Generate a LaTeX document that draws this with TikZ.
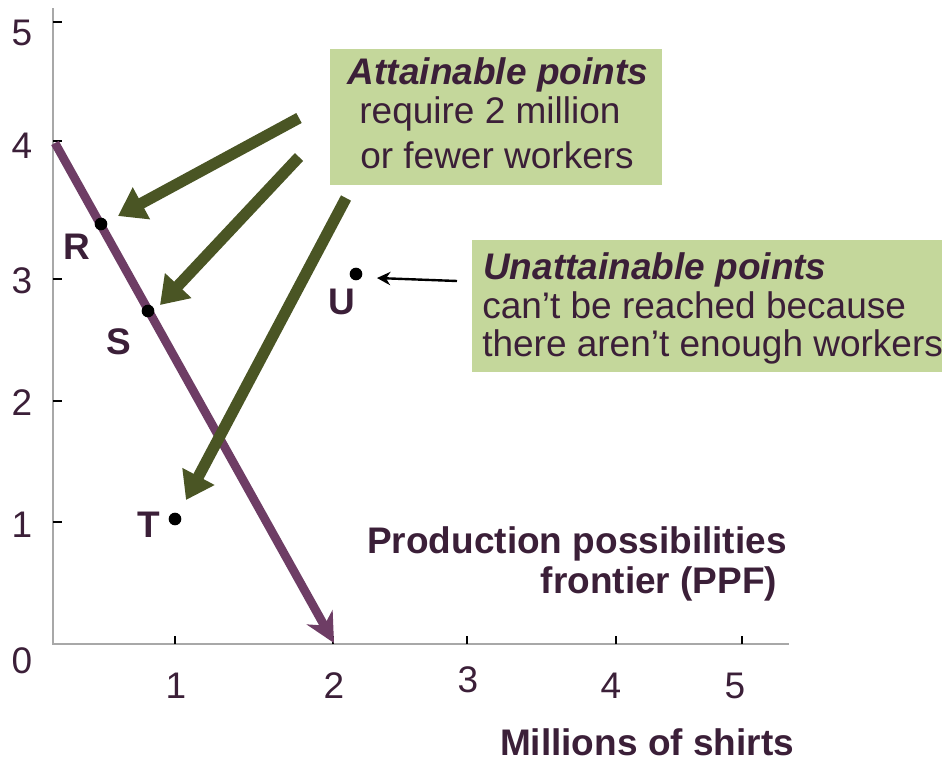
\documentclass[tikz,border=0pt]{standalone}
\usepackage{fontspec}
\setmainfont{Liberation Sans}
\usetikzlibrary{arrows.meta}
\definecolor{ppfcol}{HTML}{6E3D65}
\definecolor{txtcol}{HTML}{3B1F38}
\definecolor{grncol}{HTML}{4A5524}
\definecolor{boxcol}{HTML}{C4D79B}
\definecolor{axcol}{HTML}{A8A8A8}
\tikzset{
  lbl/.style={anchor=base, inner sep=0pt, text=txtcol, font=\fontsize{27.75}{33}\selectfont},
  blbl/.style={lbl, font=\fontsize{27.75}{33}\selectfont\bfseries},
  bilbl/.style={lbl, font=\fontsize{27.75}{33}\selectfont\bfseries\itshape},
  dot/.style={circle, fill=black, inner sep=0pt, minimum size=9.5pt},
  axisline/.style={draw=axcol, line width=1.1pt},
  tickmark/.style={draw=black, line width=0.8pt},
  greenbox/.style={fill=boxcol, draw=none, inner sep=0pt},
  garrow/.style={draw=grncol, line width=8.5pt, -{Triangle[length=20pt,width=26pt]}},
  ppfarrow/.style={draw=ppfcol, line width=6.5pt, -{Stealth[length=22pt,width=22pt,inset=7pt]}},
  karrow/.style={draw=black, line width=1.8pt, -{Stealth[length=10pt,width=10pt]}}
}
\begin{document}
\begin{tikzpicture}[x=0.75pt,y=-0.75pt]
\useasboundingbox (0,0) rectangle (942,764);
% axes
\coordinate (ytop) at (53,8);
\coordinate (orig) at (53,644);
\coordinate (xend) at (789,644);
\draw[axisline] (ytop) -- (orig) -- (xend);
% y ticks
\foreach \yy/\nm in {22/y5,141/y4,279/y3,401/y2,522/y1}{
  \coordinate (\nm a) at (53,\yy); \coordinate (\nm b) at (62,\yy);
  \draw[tickmark] (\nm a) -- (\nm b);
}
% x ticks
\foreach \xx/\nm in {175/x1,333/x2,467/x3,616/x4,742/x5}{
  \coordinate (\nm a) at (\xx,644); \coordinate (\nm b) at (\xx,636);
  \draw[tickmark] (\nm a) -- (\nm b);
}
% y labels
\node[lbl] (l5) at (22,45) {5};
\node[lbl] (l4) at (22,158) {4};
\node[lbl] (l3) at (22,293) {3};
\node[lbl] (l2) at (22,415) {2};
\node[lbl] (l1) at (22,537) {1};
\node[lbl] (l0) at (22,673) {0};
% x labels
\node[lbl] (m1) at (176,698) {1};
\node[lbl] (m2) at (334,698) {2};
\node[lbl] (m3) at (468,692) {3};
\node[lbl] (m4) at (611,698) {4};
\node[lbl] (m5) at (735,698) {5};
% boxes
\node[greenbox, minimum width=249pt, minimum height=102pt] (boxA) at (496,117) {};
\node[greenbox, minimum width=352.5pt, minimum height=99pt] (boxB) at (707,306) {};
\node[bilbl] (a1) at (498,84) {Attainable points};
\node[lbl] (a2) at (490,123) {require 2 million};
\node[lbl] (a3) at (497,168) {or fewer workers};
\node[bilbl, anchor=base west] (b1) at (483,279) {Unattainable points};
\node[lbl, anchor=base west] (b2) at (482,318) {can’t be reached because};
\node[lbl, anchor=base west] (b3) at (482,356) {there aren’t enough workers};
% PPF
\coordinate (ppfs) at (55,143);
\coordinate (ppfe) at (334,643);
\draw[ppfarrow] (ppfs) -- (ppfe);
% points
\node[dot] (R) at (101,224) {};
\node[dot] (S) at (148,311) {};
\node[dot] (T) at (175,519) {};
\node[dot] (U) at (356,274) {};
\node[blbl] (Rl) at (77,259) {R};
\node[blbl] (Sl) at (119,354) {S};
\node[blbl] (Tl) at (149,537) {T};
\node[blbl] (Ul) at (342,314) {U};
% green arrows
\coordinate (g1s) at (299,118);
\coordinate (g1e) at (118,216);
\coordinate (g2s) at (299,157);
\coordinate (g2e) at (160,305);
\coordinate (g3s) at (346,198);
\coordinate (g3e) at (186,500);
\draw[garrow] (g1s) -- (g1e);
\draw[garrow] (g2s) -- (g2e);
\draw[garrow] (g3s) -- (g3e);
% black arrow
\coordinate (ks) at (457,281);
\coordinate (ke) at (377,278);
\draw[karrow] (ks) -- (ke);
% captions
\node[blbl] (p1) at (577,553) {Production possibilities};
\node[blbl] (p2) at (659,593) {frontier (PPF)};
\node[blbl] (mx) at (647,755) {Millions of shirts};
\end{tikzpicture}
\end{document}
